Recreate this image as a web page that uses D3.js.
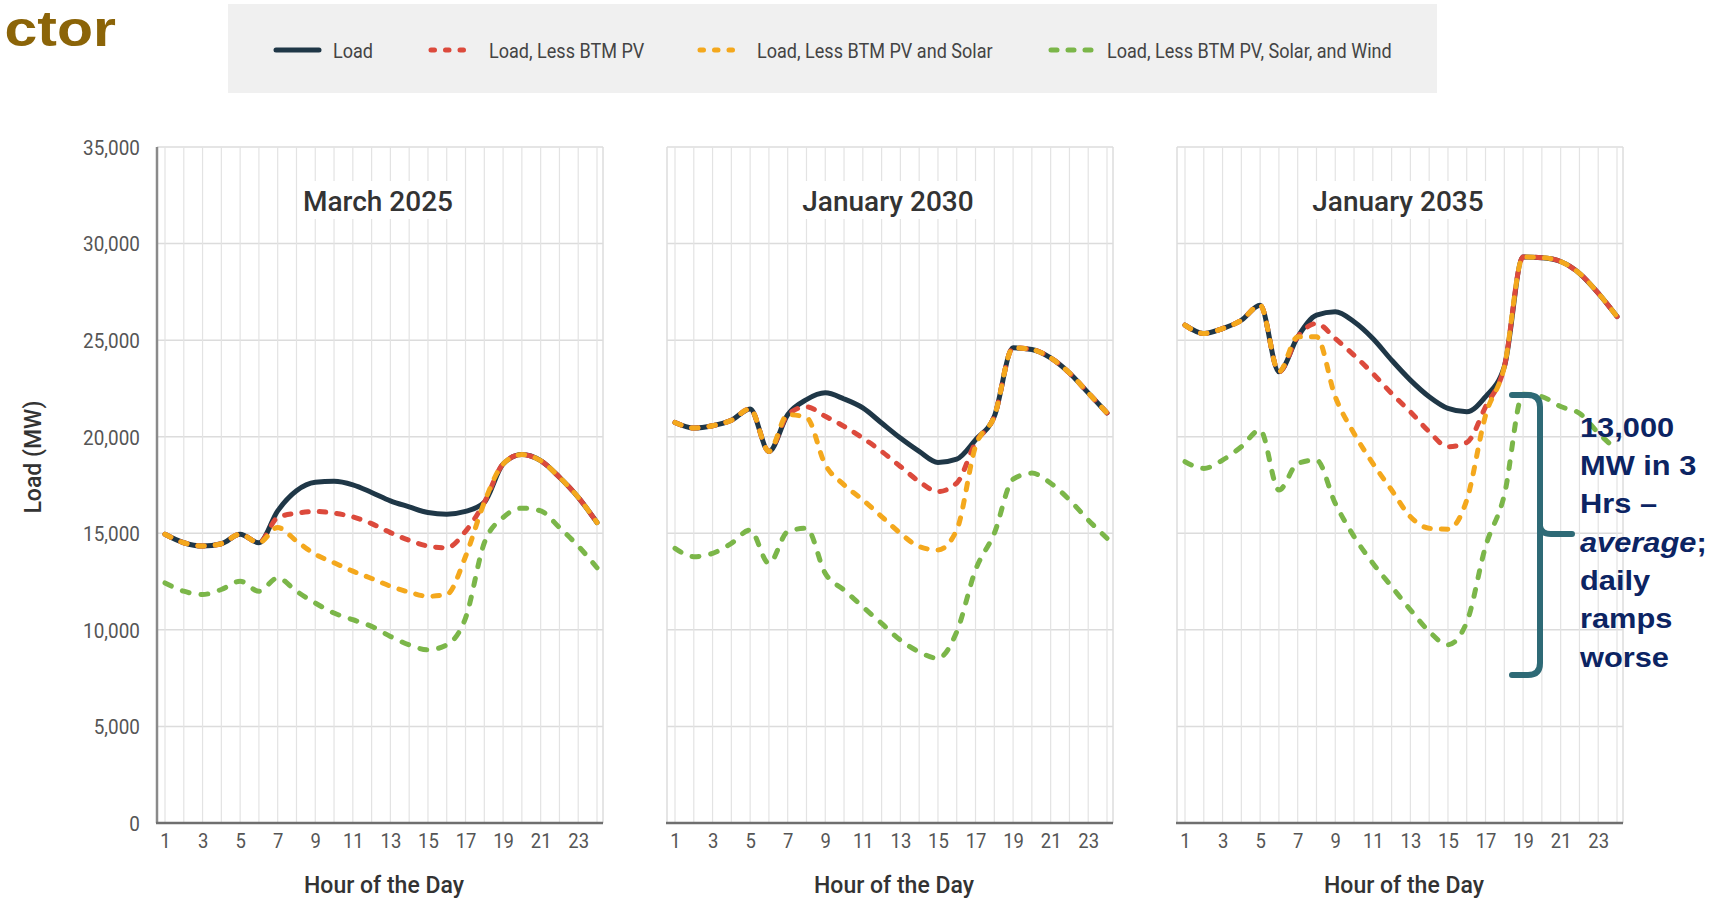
<!DOCTYPE html>
<html>
<head>
<meta charset="utf-8">
<script src="https://cdn.jsdelivr.net/npm/d3@7"></script>
<style>
  html, body { margin: 0; padding: 0; background: #ffffff; }
  svg { display: block; }
</style>
</head>
<body>
<svg id="chart" width="1727" height="905"></svg>
<script>
// ---- Data ----------------------------------------------------------------
const hours = [1, 2, 3, 4, 5, 6, 7, 8, 9, 10, 11, 12, 13, 14, 15, 16, 17, 18, 19, 20, 21, 22, 23, 24];
const hourTicks = [1, 3, 5, 7, 9, 11, 13, 15, 17, 19, 21, 23];
const loadTicks = [0, 5000, 10000, 15000, 20000, 25000, 30000, 35000];
const panelTitles = ["March 2025", "January 2030", "January 2035"];
const seriesNames = ["Load", "Load, Less BTM PV", "Load, Less BTM PV and Solar", "Load, Less BTM PV, Solar, and Wind"];

// March 2025 (MW)
const mar2025Load   = [14950, 14510, 14340, 14460, 14950, 14510, 16160, 17200, 17640, 17690, 17510, 17115, 16680, 16370, 16075, 15990, 16130, 16600, 18590, 19075, 18760, 17900, 16860, 15555];
const mar2025NoPV   = [14950, 14510, 14340, 14460, 14950, 14510, 15815, 16040, 16130, 16040, 15850, 15500, 15035, 14635, 14340, 14250, 15100, 16600, 18590, 19075, 18760, 17900, 16860, 15555];
const mar2025NoSol  = [14950, 14510, 14340, 14460, 14950, 14510, 15295, 14600, 13910, 13475, 13040, 12660, 12260, 11950, 11740, 11830, 13800, 16600, 18590, 19075, 18760, 17900, 16860, 15555];
const mar2025NoWind = [12430, 12000, 11830, 12090, 12520, 12000, 12690, 12000, 11390, 10870, 10525, 10180, 9660, 9225, 8965, 9225, 10610, 14500, 15815, 16300, 16160, 15295, 14340, 13215];

// January 2030 (MW)
const jan2030Load   = [20740, 20450, 20570, 20850, 21440, 19240, 21140, 21920, 22270, 21955, 21490, 20710, 19930, 19240, 18670, 18840, 19840, 21055, 24600, 24515, 24080, 23300, 22270, 21230];
const jan2030NoPV   = [20740, 20450, 20570, 20850, 21440, 19240, 21140, 21550, 21055, 20535, 19930, 19240, 18460, 17680, 17160, 17600, 19700, 21055, 24600, 24515, 24080, 23300, 22270, 21230];
const jan2030NoSol  = [20740, 20450, 20570, 20850, 21440, 19240, 21140, 21000, 18550, 17510, 16730, 15865, 15000, 14310, 14135, 15175, 19500, 21055, 24600, 24515, 24080, 23300, 22270, 21230];
const jan2030NoWind = [14220, 13790, 13960, 14480, 15170, 13440, 15085, 15260, 12925, 12060, 11195, 10330, 9465, 8860, 8530, 9900, 13100, 15000, 17800, 18115, 17595, 16730, 15690, 14740];

// January 2035 (MW)
const jan2035Load   = [25775, 25345, 25600, 26030, 26810, 23360, 25170, 26290, 26465, 25950, 25085, 23965, 22930, 22070, 21465, 21290, 22070, 23620, 29300, 29270, 29070, 28460, 27430, 26220];
const jan2035NoPV   = [25775, 25345, 25600, 26030, 26810, 23360, 25170, 25860, 25085, 24220, 23275, 22240, 21290, 20260, 19480, 19700, 21550, 23620, 29300, 29270, 29070, 28460, 27430, 26220];
const jan2035NoSol  = [25775, 25345, 25600, 26030, 26810, 23360, 25170, 25170, 22070, 20170, 18620, 17240, 15860, 15260, 15210, 16720, 21100, 23620, 29300, 29270, 29070, 28460, 27430, 26220];
const jan2035NoWind = [18705, 18360, 18790, 19480, 20345, 17240, 18620, 18790, 16550, 14830, 13450, 12240, 11035, 9915, 9225, 10400, 14310, 16980, 22200, 22075, 21560, 21215, 20200, 19300];

const annotationLines = ["13,000", "MW in 3", "Hrs \u2013", "average;", "daily", "ramps", "worse"];

// ---- Styles ----------------------------------------------------------------
const seriesColors = ["#1f3747", "#dc4a3c", "#f4a81d", "#7bb649"];
const seriesDash   = [null, "6.5,11", "6.5,11", "7,12"];
const condensed = 0.88;

const panels = [
  { title: panelTitles[0], series: [mar2025Load, mar2025NoPV, mar2025NoSol, mar2025NoWind] },
  { title: panelTitles[1], series: [jan2030Load, jan2030NoPV, jan2030NoSol, jan2030NoWind] },
  { title: panelTitles[2], series: [jan2035Load, jan2035NoPV, jan2035NoSol, jan2035NoWind] }
];

const svg = d3.select("#chart");

// ---- Heading fragment ------------------------------------------------------
svg.append("text")
  .attr("transform", "translate(116,45.5) scale(1.18,1)")
  .attr("text-anchor", "end")
  .attr("font-family", "'Liberation Sans', Arial, sans-serif")
  .attr("font-weight", "bold")
  .attr("font-size", 50)
  .attr("fill", "#8b6408")
  .text("ctor");

// ---- Legend ----------------------------------------------------------------
svg.append("rect")
  .attr("x", 228).attr("y", 4).attr("width", 1209).attr("height", 89)
  .attr("fill", "#f0f0f0");

const legendItems = [
  { x1: 276, x2: 319, tx: 333 },
  { x1: 431, x2: 470, tx: 489 },
  { x1: 700, x2: 739, tx: 757 },
  { x1: 1051, x2: 1094, tx: 1107 }
];
const legend = svg.append("g");
legendItems.forEach((it, i) => {
  legend.append("line")
    .attr("x1", it.x1).attr("x2", it.x2).attr("y1", 50).attr("y2", 50)
    .attr("stroke", seriesColors[i])
    .attr("stroke-width", 5)
    .attr("stroke-linecap", "round")
    .attr("stroke-dasharray", i === 0 ? null : (i === 3 ? "6,11" : "3.5,11"));
  legend.append("text")
    .attr("transform", `translate(${it.tx},58) scale(0.86,1)`)
    .attr("font-family", "Roboto, sans-serif")
    .attr("font-size", 21)
    .attr("fill", "#444444")
    .text(seriesNames[i]);
});

// ---- Panels ----------------------------------------------------------------
const panelLeft = [157, 667, 1177];
const plotW = 446;
const y = d3.scaleLinear().domain([0, 35000]).range([823, 147]);

panels.forEach((p, i) => {
  const left = panelLeft[i];
  const x = d3.scaleLinear().domain([1, 24]).range([left + 8, left + 440]);
  const g = svg.append("g");

  // horizontal grid
  g.append("g").selectAll("line").data(loadTicks.slice(1)).join("line")
    .attr("x1", left).attr("x2", left + plotW)
    .attr("y1", d => y(d)).attr("y2", d => y(d))
    .attr("stroke", "#dcdcdc").attr("stroke-width", 1.5);

  // vertical grid, one line per hour
  g.append("g").selectAll("line").data(hours).join("line")
    .attr("x1", d => x(d)).attr("x2", d => x(d))
    .attr("y1", y(35000)).attr("y2", y(0))
    .attr("stroke", "#e3e3e3").attr("stroke-width", 1.2);

  // frame sides
  g.append("line")
    .attr("x1", left + plotW).attr("x2", left + plotW)
    .attr("y1", y(35000)).attr("y2", y(0))
    .attr("stroke", "#dcdcdc").attr("stroke-width", 1.5);
  g.append("line")
    .attr("x1", left).attr("x2", left)
    .attr("y1", y(35000)).attr("y2", y(0))
    .attr("stroke", i === 0 ? "#8a8a8a" : "#dcdcdc")
    .attr("stroke-width", i === 0 ? 2.5 : 1.5);

  // panel title on a white plate
  const titleX = left + plotW / 2 - 2;
  const plate = g.append("rect").attr("fill", "#ffffff");
  const title = g.append("text")
    .attr("x", titleX).attr("y", 211)
    .attr("text-anchor", "middle")
    .attr("font-family", "Roboto, sans-serif")
    .attr("font-weight", 500)
    .attr("font-size", 28)
    .attr("fill", "#333333")
    .text(p.title);
  const tw = title.node().getComputedTextLength();
  plate.attr("x", titleX - tw / 2 - 5).attr("y", 181)
    .attr("width", tw + 10).attr("height", 38);

  // x axis labels
  const xAxis = g.append("g")
    .attr("transform", `translate(0,${y(0)})`)
    .call(d3.axisBottom(x).tickValues(hourTicks).tickSize(0).tickPadding(10));
  xAxis.select(".domain").remove();
  xAxis.attr("font-family", "Roboto, sans-serif").attr("font-size", 21);
  xAxis.selectAll("text").attr("fill", "#555555").attr("transform", `scale(${condensed},1)`);

  // baseline
  g.append("line")
    .attr("x1", left - 1).attr("x2", left + plotW)
    .attr("y1", y(0)).attr("y2", y(0))
    .attr("stroke", "#6f6f6f").attr("stroke-width", 2.5);

  // x axis title
  g.append("text")
    .attr("x", left + plotW / 2 + 4).attr("y", 893)
    .attr("text-anchor", "middle")
    .attr("font-family", "Roboto, sans-serif")
    .attr("font-weight", 500)
    .attr("font-size", 23)
    .attr("fill", "#333333")
    .text("Hour of the Day");

  // y axis on the first panel only
  if (i === 0) {
    const yAxis = g.append("g")
      .attr("transform", `translate(${left},0)`)
      .call(d3.axisLeft(y).tickValues(loadTicks).tickFormat(d3.format(",")).tickSize(0).tickPadding(19));
    yAxis.select(".domain").remove();
    yAxis.attr("font-family", "Roboto, sans-serif").attr("font-size", 21);
    yAxis.selectAll("text").attr("fill", "#555555").attr("dy", "0.35em")
      .attr("transform", `scale(0.9,1)`);

    g.append("text")
      .attr("transform", "translate(41,457) rotate(-90)")
      .attr("text-anchor", "middle")
      .attr("font-family", "Roboto, sans-serif")
      .attr("font-weight", 500)
      .attr("font-size", 23)
      .attr("fill", "#333333")
      .text("Load (MW)");
  }

  // series lines
  const line = d3.line()
    .x((d, j) => x(hours[j]))
    .y(d => y(d))
    .curve(d3.curveMonotoneX);

  p.series.forEach((vals, k) => {
    g.append("path")
      .datum(vals)
      .attr("d", line)
      .attr("fill", "none")
      .attr("stroke", seriesColors[k])
      .attr("stroke-width", 5)
      .attr("stroke-linecap", "round")
      .attr("stroke-linejoin", "round")
      .attr("stroke-dasharray", seriesDash[k]);
  });
});

// ---- Ramp callout ------------------------------------------------------------
const brace = svg.append("g")
  .attr("fill", "none")
  .attr("stroke", "#2e6a76")
  .attr("stroke-width", 6)
  .attr("stroke-linecap", "round");
brace.append("path")
  .attr("d", "M1512,395 L1528,395 Q1540,395 1540,407 L1540,663 Q1540,675 1528,675 L1512,675");
brace.append("path")
  .attr("d", "M1540,526 Q1541,534 1551,534 L1572,534");

const callout = svg.append("g")
  .attr("font-family", "'Liberation Sans', Arial, sans-serif")
  .attr("font-weight", "bold")
  .attr("font-size", 28)
  .attr("fill", "#0c2463");
annotationLines.forEach((t, i) => {
  const txt = callout.append("text")
    .attr("transform", `translate(1580,${436.7 + i * 38.33}) scale(1.1,1)`);
  if (t === "average;") {
    txt.append("tspan").attr("font-style", "italic").text("average");
    txt.append("tspan").text(";");
  } else {
    txt.text(t);
  }
});
</script>
</body>
</html>
